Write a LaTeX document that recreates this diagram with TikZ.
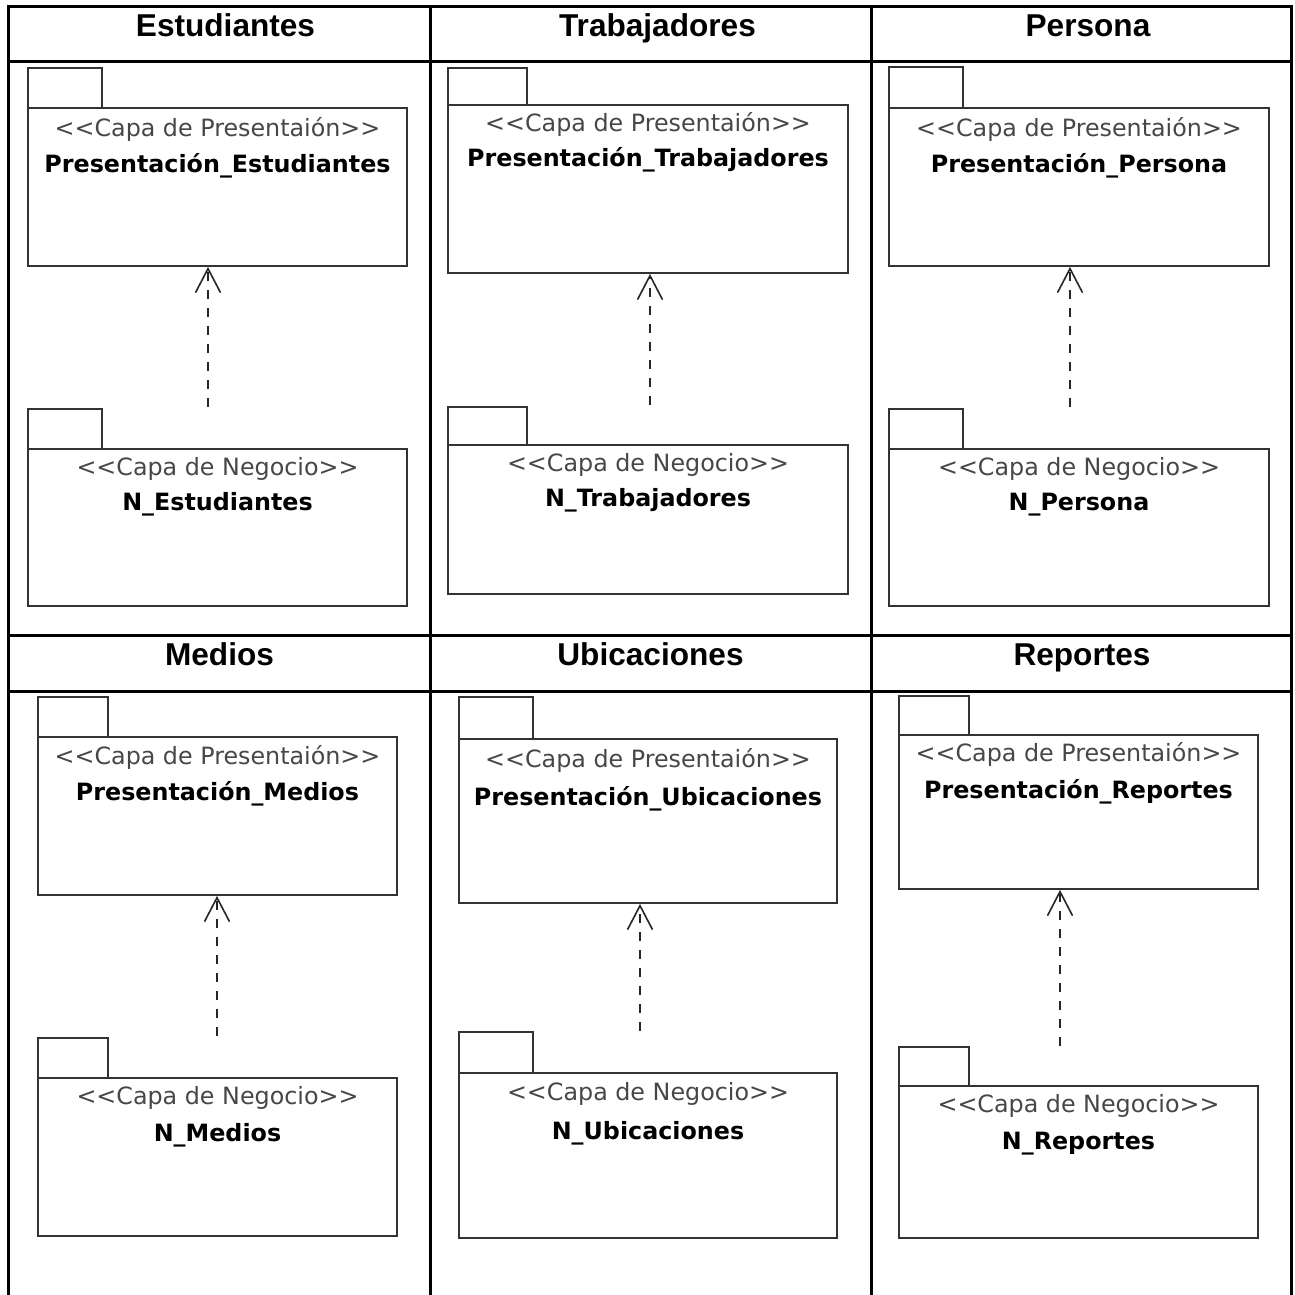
\documentclass[tikz,border=0pt]{standalone}
\usepackage{fontspec}
\usetikzlibrary{arrows.meta,fit,calc}
\newfontfamily\headfont{Liberation Sans}
\newfontfamily\pkgfont{DejaVu Sans}
% guillemet-free angle pairs
\newcommand\ltlt{<\kern0pt<}
\newcommand\gtgt{>\kern0pt>}
% one UML package: name, left, right, tab right, tab top, body top, bottom
\newcommand\umlpkg[7]{%
  \node[pkgshape, fit={(#2,#5) (#4,#6)}] (#1-tab) {};
  \node[pkgshape, fit={(#2,#6) (#3,#7)}] (#1) {};
}
\tikzset{
  gridline/.style={line width=1.5pt, black, line join=miter},
  pkgshape/.style={draw=black!80, line width=0.9pt, inner sep=0pt, fill=white},
  stereo/.style={font=\pkgfont\fontsize{11.9}{14}\selectfont, text=black!72, anchor=base, inner sep=0pt},
  pkgname/.style={font=\pkgfont\bfseries\fontsize{11.9}{14}\selectfont, text=black, anchor=base, inner sep=0pt},
  header/.style={font=\headfont\bfseries\fontsize{15.8}{18}\selectfont, anchor=base, inner sep=0pt},
  dep/.style={dash pattern=on 4.5pt off 4.5pt, line width=0.8pt, black!85,
    -{Straight Barb[length=12pt, width=12.5pt, line width=0.8pt]}},
}
\begin{document}
\begin{tikzpicture}[x=0.5pt, y=-0.5pt]
\useasboundingbox (0,0) rectangle (1295,1295);

% table frame and rules
\draw[gridline] (8,1295) -- (8,7) -- (1291,7) -- (1291,1295);
\draw[gridline] (8,62) -- (1291,62);
\draw[gridline] (8,635) -- (1291,635);
\draw[gridline] (8,691) -- (1291,691);
\draw[gridline] (430,7) -- (430,1295);
\draw[gridline] (871,7) -- (871,1295);

% column headings
\node[header] (h1) at (225.5,37) {Estudiantes};
\node[header] (h2) at (657.5,37) {Trabajadores};
\node[header] (h3) at (1088,37) {Persona};
\node[header] (h4) at (219.5,665) {Medios};
\node[header] (h5) at (650.5,665) {Ubicaciones};
\node[header] (h6) at (1082,665) {Reportes};

% Estudiantes
\umlpkg{pe}{28}{407}{102}{68}{108}{266}
\node[stereo] (pe-s) at ($(pe.north)+(0,29)$) {\ltlt Capa de Presentaión\gtgt};
\node[pkgname] (pe-n) at ($(pe.north)+(0,65)$) {Presentación\_Estudiantes};
\umlpkg{ne}{28}{407}{102}{409}{449}{606}
\node[stereo] (ne-s) at ($(ne.north)+(0,27)$) {\ltlt Capa de Negocio\gtgt};
\node[pkgname] (ne-n) at ($(ne.north)+(0,62)$) {N\_Estudiantes};
\coordinate (d1) at (208,407);
\draw[dep] (d1) -- (d1 |- pe.south);

% Trabajadores
\umlpkg{pt}{448}{848}{527}{68}{105}{273}
\node[stereo] (pt-s) at ($(pt.north)+(0,27)$) {\ltlt Capa de Presentaión\gtgt};
\node[pkgname] (pt-n) at ($(pt.north)+(0,62)$) {Presentación\_Trabajadores};
\umlpkg{nt}{448}{848}{527}{407}{445}{594}
\node[stereo] (nt-s) at ($(nt.north)+(0,27)$) {\ltlt Capa de Negocio\gtgt};
\node[pkgname] (nt-n) at ($(nt.north)+(0,62)$) {N\_Trabajadores};
\coordinate (d2) at (650,405);
\draw[dep] (d2) -- (d2 |- pt.south);

% Persona
\umlpkg{pp}{889}{1269}{963}{67}{108}{266}
\node[stereo] (pp-s) at ($(pp.north)+(0,29)$) {\ltlt Capa de Presentaión\gtgt};
\node[pkgname] (pp-n) at ($(pp.north)+(0,65)$) {Presentación\_Persona};
\umlpkg{np}{889}{1269}{963}{409}{449}{606}
\node[stereo] (np-s) at ($(np.north)+(0,27)$) {\ltlt Capa de Negocio\gtgt};
\node[pkgname] (np-n) at ($(np.north)+(0,62)$) {N\_Persona};
\coordinate (d3) at (1070,407);
\draw[dep] (d3) -- (d3 |- pp.south);

% Medios
\umlpkg{pm}{38}{397}{108}{697}{737}{895}
\node[stereo] (pm-s) at ($(pm.north)+(0,28)$) {\ltlt Capa de Presentaión\gtgt};
\node[pkgname] (pm-n) at ($(pm.north)+(0,64)$) {Presentación\_Medios};
\umlpkg{nm}{38}{397}{108}{1038}{1078}{1236}
\node[stereo] (nm-s) at ($(nm.north)+(0,27)$) {\ltlt Capa de Negocio\gtgt};
\node[pkgname] (nm-n) at ($(nm.north)+(0,64)$) {N\_Medios};
\coordinate (d4) at (217,1036);
\draw[dep] (d4) -- (d4 |- pm.south);

% Ubicaciones
\umlpkg{pu}{459}{837}{533}{697}{739}{903}
\node[stereo] (pu-s) at ($(pu.north)+(0,29)$) {\ltlt Capa de Presentaión\gtgt};
\node[pkgname] (pu-n) at ($(pu.north)+(0,67)$) {Presentación\_Ubicaciones};
\umlpkg{nu}{459}{837}{533}{1032}{1073}{1238}
\node[stereo] (nu-s) at ($(nu.north)+(0,28)$) {\ltlt Capa de Negocio\gtgt};
\node[pkgname] (nu-n) at ($(nu.north)+(0,67)$) {N\_Ubicaciones};
\coordinate (d5) at (640,1031);
\draw[dep] (d5) -- (d5 |- pu.south);

% Reportes
\umlpkg{pr}{899}{1258}{969}{696}{735}{889}
\node[stereo] (pr-s) at ($(pr.north)+(0,27)$) {\ltlt Capa de Presentaión\gtgt};
\node[pkgname] (pr-n) at ($(pr.north)+(0,64)$) {Presentación\_Reportes};
\umlpkg{nr}{899}{1258}{969}{1047}{1086}{1238}
\node[stereo] (nr-s) at ($(nr.north)+(0,27)$) {\ltlt Capa de Negocio\gtgt};
\node[pkgname] (nr-n) at ($(nr.north)+(0,64)$) {N\_Reportes};
\coordinate (d6) at (1060,1046);
\draw[dep] (d6) -- (d6 |- pr.south);
\end{tikzpicture}
\end{document}
